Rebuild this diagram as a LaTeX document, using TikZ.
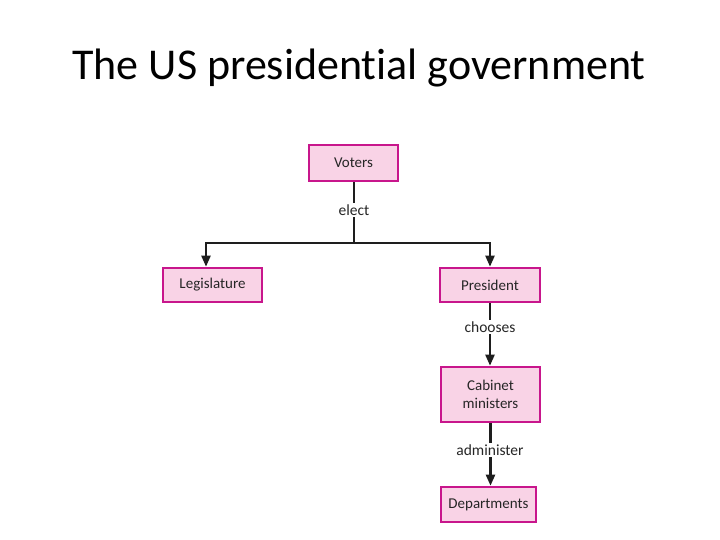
\documentclass[tikz,border=0pt]{standalone}
\usepackage{fontspec}
\setmainfont{Carlito}[Ligatures=CommonOff]
\usetikzlibrary{arrows.meta}
\definecolor{boxedge}{HTML}{C8168C}
\definecolor{boxfill}{HTML}{F9D3E6}
\definecolor{linec}{HTML}{1E1E1E}
\tikzset{
  govbox/.style={draw=boxedge, fill=boxfill, line width=2.6pt, inner sep=0pt, font=\fontsize{15}{18}\selectfont, text=black!85, align=center},
  conn/.style={draw=linec, line width=2.2pt},
  arr/.style={conn, -{Triangle[width=9pt,length=11pt]}},
  lbl/.style={fill=white, inner sep=2pt, font=\fontsize{15.5}{18}\selectfont, text=black!85}
}
\begin{document}
\begin{tikzpicture}[x=1pt,y=-1pt]
\useasboundingbox (0,0) rectangle (720,540);
\node[font=\fontsize{44}{52}\selectfont] (title) at (359,68) {The US presidential government};
\node[govbox, minimum width=89pt, minimum height=36pt] (voters) at (353.5,163) {Voters};
\node[govbox, minimum width=99pt, minimum height=34pt] (leg) at (212.5,285) {Legislature};
\node[govbox, minimum width=100pt, minimum height=34pt] (pres) at (490,285) {President};
\node[govbox, minimum width=99pt, minimum height=55pt] (cab) at (490.5,394.5) {Cabinet\\ministers};
\node[govbox, minimum width=95pt, minimum height=35pt] (dep) at (488.5,504.5) {Departments};
\coordinate (split) at (354,243);
\coordinate (lsplit) at (206,243);
\coordinate (rsplit) at (490,243);
\draw[conn] (voters.south -| split) -- (split);
\draw[arr] (split) -- (lsplit) -- (lsplit |- leg.north);
\draw[arr] (split) -- (rsplit) -- (pres.north);
\draw[arr] (pres.south) -- (cab.north -| pres.south);
\draw[arr] (cab.south) -- (dep.north -| cab.south);
\node[lbl] (elect) at (354,210) {elect};
\node[lbl] (chooses) at (490,327) {chooses};
\node[lbl] (admin) at (490,450) {administer};
\end{tikzpicture}
\end{document}
